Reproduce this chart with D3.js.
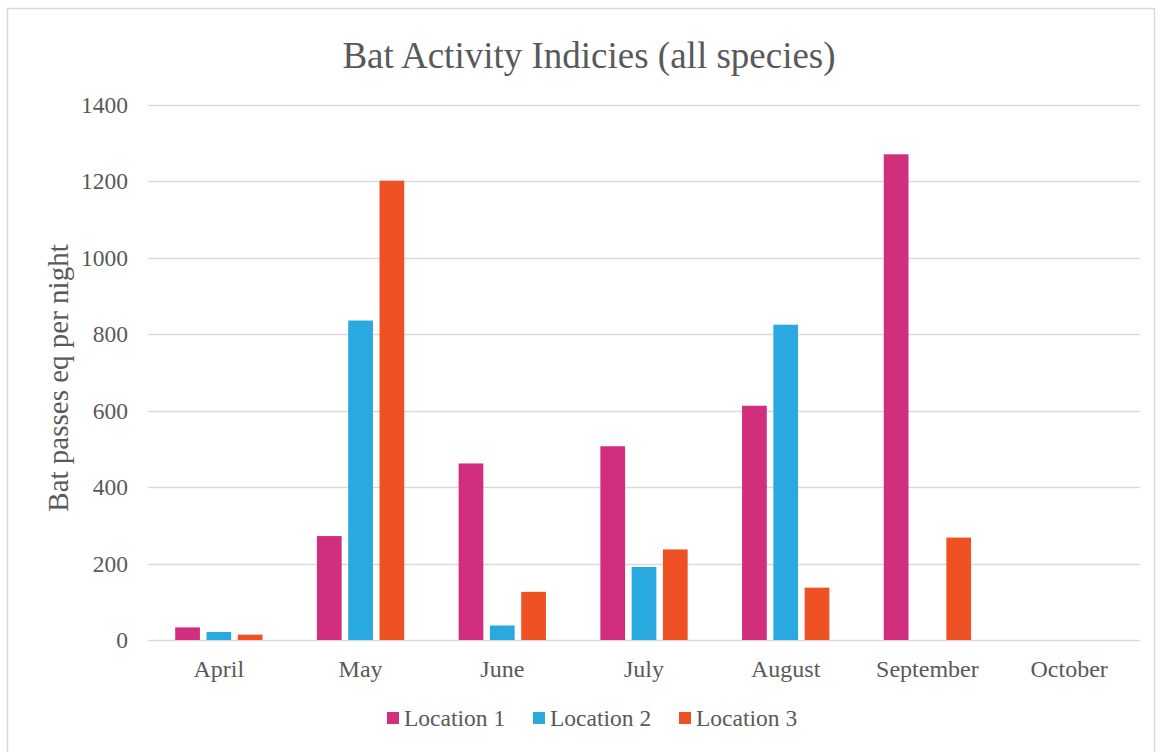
<!DOCTYPE html>
<html>
<head>
<meta charset="utf-8">
<script src="https://cdn.jsdelivr.net/npm/d3@7/dist/d3.min.js"></script>
</head>
<body style="margin:0;padding:0;background:#fff;">
<svg id="chart" width="1165" height="752" style="display:block;"></svg>
<script>
// Monthly bat activity per location
const months = ["April", "May", "June", "July", "August", "September", "October"];
const seriesNames = ["Location 1", "Location 2", "Location 3"];
const location1 = [33, 272, 462, 507, 613, 1271, 0];
const location2 = [21, 836, 38, 191, 825, 0, 0];
const location3 = [14, 1202, 126, 237, 137, 268, 0];
const yTicks = [0, 200, 400, 600, 800, 1000, 1200, 1400];
const colors = ["#D12E7E", "#29A9E0", "#EE5123"];

const seriesValues = [location1, location2, location3];
const plot = { left: 148, right: 1140, top: 105, bottom: 640 };
const FONT = '"Liberation Serif"';
const TEXT_COLOR = "#595959";

const svg = d3.select("#chart");

// outer chart frame
svg.append("rect")
  .attr("x", 7.5).attr("y", 8.5)
  .attr("width", 1147).attr("height", 770)
  .attr("fill", "none").attr("stroke", "#D9D9D9").attr("stroke-width", 1.5);

const x0 = d3.scaleBand().domain(months).range([plot.left, plot.right]).padding(0);
const groupW = x0.bandwidth() * 0.616;
const x1 = d3.scaleBand().domain(seriesNames).range([0, groupW]).paddingInner(0.21).paddingOuter(0);
const y = d3.scaleLinear().domain([0, 1400]).range([plot.bottom, plot.top]);

// horizontal gridlines
svg.append("g")
  .selectAll("line")
  .data(yTicks)
  .join("line")
  .attr("x1", plot.left).attr("x2", plot.right)
  .attr("y1", d => Math.round(y(d)) + 0.5).attr("y2", d => Math.round(y(d)) + 0.5)
  .attr("stroke", "#D9D9D9").attr("stroke-width", 1.6);

function styleText(sel, size) {
  sel.style("font-family", FONT).style("font-size", size + "px").style("fill", TEXT_COLOR);
}

// y axis labels
const yAxis = d3.axisLeft(y).tickValues(yTicks).tickFormat(d3.format("d")).tickSize(0).tickPadding(0);
const yg = svg.append("g").attr("transform", `translate(${plot.left - 20},0)`).call(yAxis);
yg.select(".domain").remove();
yg.selectAll("text").call(styleText, 23.5);

// x axis labels
const xAxis = d3.axisBottom(x0).tickSize(0).tickPadding(0);
const xg = svg.append("g").attr("transform", `translate(0,${plot.bottom + 20})`).call(xAxis);
xg.select(".domain").remove();
xg.selectAll("text").attr("dy", "0.71em").call(styleText, 24);

// bars
const groups = svg.append("g")
  .selectAll("g")
  .data(months)
  .join("g")
  .attr("transform", d => `translate(${x0(d) + (x0.bandwidth() - groupW) / 2},0)`);

groups.selectAll("rect")
  .data((m, i) => seriesNames.map((s, k) => ({ s, k, v: seriesValues[k][i] })))
  .join("rect")
  .attr("x", d => x1(d.s))
  .attr("width", x1.bandwidth())
  .attr("y", d => y(d.v))
  .attr("height", d => y(0) - y(d.v))
  .attr("fill", d => colors[d.k]);

// title
svg.append("text")
  .attr("x", 589).attr("y", 68)
  .attr("text-anchor", "middle")
  .call(styleText, 37)
  .text("Bat Activity Indicies (all species)");

// y axis title
svg.append("text")
  .attr("transform", `translate(68,378) rotate(-90)`)
  .attr("text-anchor", "middle")
  .call(styleText, 29)
  .text("Bat passes eq per night");

// legend
const legendItems = [
  { name: seriesNames[0], color: colors[0], x: 387 },
  { name: seriesNames[1], color: colors[1], x: 533 },
  { name: seriesNames[2], color: colors[2], x: 679 }
];
const lg = svg.append("g").selectAll("g").data(legendItems).join("g")
  .attr("transform", d => `translate(${d.x},718)`);
lg.append("rect").attr("x", 0).attr("y", -6).attr("width", 12).attr("height", 12)
  .attr("fill", d => d.color);
lg.append("text").attr("x", 17).attr("y", 8).call(styleText, 23.5).text(d => d.name);
</script>
</body>
</html>
